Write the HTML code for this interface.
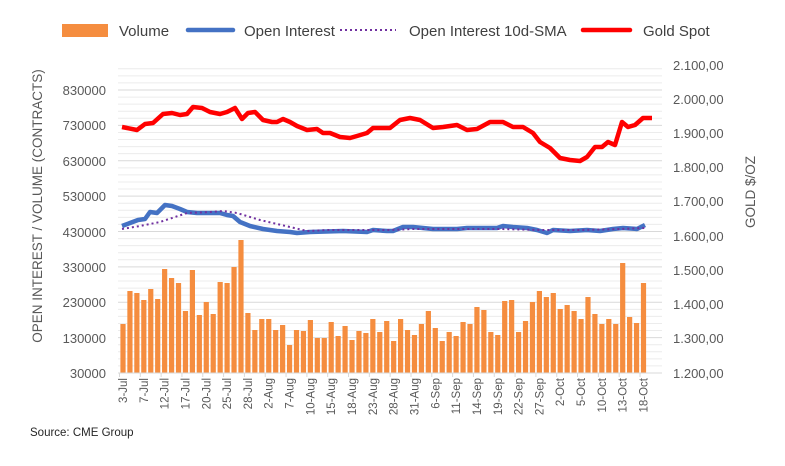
<!DOCTYPE html>
<html><head><meta charset="utf-8"><style>
body{margin:0;background:#fff;}
svg{display:block;font-family:"Liberation Sans",sans-serif;}
</style></head><body>
<svg width="785" height="466" viewBox="0 0 785 466">
<rect width="785" height="466" fill="#fff"/>
<g id="grid" stroke="#ececec" stroke-width="1"></g>
<g id="bars" fill="#f58d3f"></g>
<polyline fill="none" stroke="#4472c4" stroke-width="4.5" stroke-linejoin="round" points="122,226 130,223 138,220 145,219 150,212 157,213 165,205 172,206 180,209 187,212 197,213 210,213 220,213 227,215 233,216 240,222 250,226 263,229 277,231 290,232 297,233 310,232 343,231 367,232 373,230 387,231 393,231 403,227 413,227 433,229 457,229 467,228 497,228 503,226 513,227 527,228 537,230 547,233 553,230 570,231 587,230 600,231 613,229 623,228 637,229 645,225"/>
<polyline fill="none" stroke="#7030a0" stroke-width="2" stroke-dasharray="2,3" points="122,229 140,226 160,222 187,213 210,212 223,211 237,213 260,220 290,227 307,231 327,230 390,230 413,229 460,229 500,229 540,230 580,230 620,229 645,228"/>
<polyline fill="none" stroke="#ff0000" stroke-width="4.5" stroke-linejoin="round" points="122,127 137,130 145,124 153,123 163,114 172,113 180,115 187,114 193,107 202,108 210,112 220,114 227,112 235,108 242,119 248,113 255,112 263,120 272,122 277,122 283,119 290,122 297,126 307,130 317,129 323,133 330,133 340,137 350,138 357,136 367,133 373,128 383,128 390,128 400,120 410,118 420,120 433,128 443,127 457,125 467,130 477,129 490,122 503,122 513,127 523,127 533,133 540,142 550,148 560,158 570,160 580,161 587,157 595,147 602,147 608,142 615,145 622,122 628,127 635,125 643,118 652,118"/>
<g font-size="13" fill="#595959" text-anchor="end">
<text x="106" y="95">830000</text><text x="106" y="130">730000</text><text x="106" y="166">630000</text><text x="106" y="201">530000</text><text x="106" y="237">430000</text><text x="106" y="272">330000</text><text x="106" y="307">230000</text><text x="106" y="343">130000</text><text x="106" y="378">30000</text>
</g>
<g font-size="13" fill="#595959" text-anchor="start">
<text x="673" y="70">2.100,00</text><text x="673" y="104">2.000,00</text><text x="673" y="138">1.900,00</text><text x="673" y="172">1.800,00</text><text x="673" y="206">1.700,00</text><text x="673" y="241">1.600,00</text><text x="673" y="275">1.500,00</text><text x="673" y="309">1.400,00</text><text x="673" y="343">1.300,00</text><text x="673" y="378">1.200,00</text>
</g>
<g id="xl" font-size="11.5" fill="#595959"></g>
<line x1="118" y1="373" x2="662" y2="373" stroke="#d9d9d9"/>
<text transform="translate(42,206) rotate(-90)" font-size="13.5" fill="#595959" text-anchor="middle">OPEN INTEREST / VOLUME (CONTRACTS)</text>
<text transform="translate(755,192) rotate(-90)" font-size="13.5" fill="#595959" text-anchor="middle">GOLD $/OZ</text>
<rect x="62" y="24" width="46" height="13" fill="#f58d3f"/>
<text x="119" y="36" font-size="15" fill="#404040">Volume</text>
<line x1="188" y1="30" x2="233" y2="30" stroke="#4472c4" stroke-width="4.5" stroke-linecap="round"/>
<text x="244" y="36" font-size="15" fill="#404040">Open Interest</text>
<line x1="340" y1="30" x2="396" y2="30" stroke="#7030a0" stroke-width="2" stroke-dasharray="2,3"/>
<text x="409" y="36" font-size="15" fill="#404040">Open Interest 10d-SMA</text>
<line x1="583" y1="30" x2="630" y2="30" stroke="#ff0000" stroke-width="4.5" stroke-linecap="round"/>
<text x="643" y="36" font-size="15" fill="#404040">Gold Spot</text>
<text x="30" y="436" font-size="11.5" fill="#262626">Source: CME Group</text>
</svg>
<script>
var ns="http://www.w3.org/2000/svg";
var g=document.getElementById("grid");
for(var i=-3;i<=40;i++){var y=90+i*283/40;var l=document.createElementNS(ns,"line");l.setAttribute("x1",118);l.setAttribute("x2",662);l.setAttribute("y1",y);l.setAttribute("y2",y);if(i%5==0)l.setAttribute("stroke","#d9d9d9");g.appendChild(l);}
var tops=[324,291,293,300,289,299,269,278,283,311,270,315,302,314,282,283,267,240,313,330,319,319,330,325,345,330,331,320,338,338,322,336,326,340,331,333,319,332,321,341,319,330,335,324,311,328,341,332,336,322,324,307,310,332,335,301,300,332,321,302,291,297,293,309,305,311,319,297,314,324,319,324,263,317,323,283];
var b=document.getElementById("bars");
for(var i=0;i<tops.length;i++){var x=123+i*6.94;var r=document.createElementNS(ns,"rect");r.setAttribute("x",x-2.6);r.setAttribute("width",5.2);r.setAttribute("y",tops[i]);r.setAttribute("height",373-tops[i]);b.appendChild(r);}
var labs=["3-Jul","7-Jul","12-Jul","17-Jul","20-Jul","25-Jul","28-Jul","2-Aug","7-Aug","10-Aug","15-Aug","18-Aug","23-Aug","28-Aug","31-Aug","6-Sep","11-Sep","14-Sep","19-Sep","22-Sep","27-Sep","2-Oct","5-Oct","10-Oct","13-Oct","18-Oct"];
var xl=document.getElementById("xl");
for(var i=0;i<labs.length;i++){var x=123+i*3*6.94;var t=document.createElementNS(ns,"text");t.setAttribute("transform","translate("+(x+4)+",378) rotate(-90)");t.setAttribute("text-anchor","end");t.textContent=labs[i];xl.appendChild(t);
var tk=document.createElementNS(ns,"line");tk.setAttribute("x1",x-3.5);tk.setAttribute("x2",x-3.5);tk.setAttribute("y1",373);tk.setAttribute("y2",377);tk.setAttribute("stroke","#d9d9d9");xl.appendChild(tk);}
</script>
</body></html>
